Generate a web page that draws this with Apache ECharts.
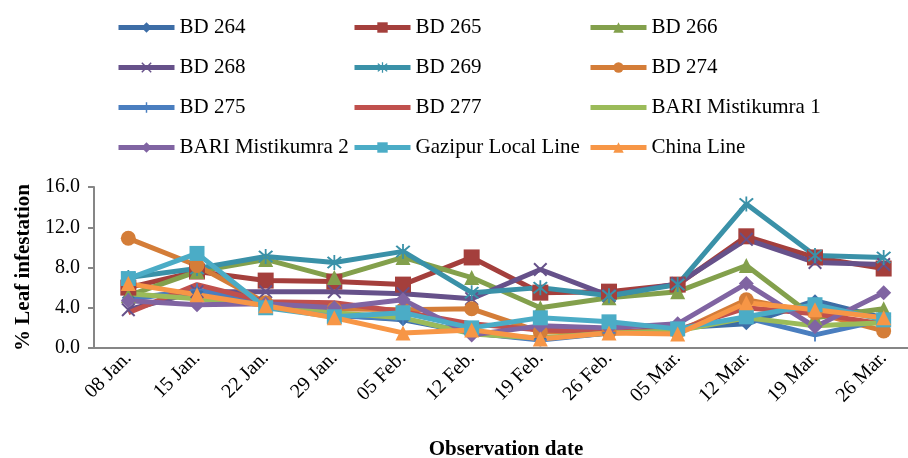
<!DOCTYPE html>
<html>
<head>
<meta charset="utf-8">
<script src="https://cdn.jsdelivr.net/npm/echarts@6/dist/echarts.min.js"></script>
<style>
  html, body { margin: 0; padding: 0; background: #fff; }
  #chart { width: 908px; height: 458px; }
</style>
</head>
<body>
<div id="chart"></div>
<script>
const categories = ['08 Jan.', '15 Jan.', '22 Jan.', '29 Jan.', '05 Feb.', '12 Feb.', '19 Feb.', '26 Feb.', '05 Mar.', '12 Mar.', '19 Mar.', '26 Mar.']
const yTicks = [0, 4, 8, 12, 16]

const bd264 = [5.0, 5.6, 4.5, 3.3, 2.8, 1.5, 0.9, 1.5, 2.0, 2.4, 4.7, 3.0]
const bd265 = [6.0, 7.6, 6.7, 6.6, 6.3, 9.0, 5.5, 5.6, 6.3, 11.1, 9.0, 7.9]
const bd266 = [5.2, 7.6, 8.8, 7.0, 9.0, 7.0, 4.0, 5.0, 5.6, 8.2, 3.0, 3.9]
const bd268 = [3.8, 5.6, 5.6, 5.6, 5.4, 4.9, 7.8, 5.2, 6.4, 10.8, 8.5, 8.3]
const bd269 = [7.0, 7.9, 9.1, 8.5, 9.6, 5.5, 6.0, 5.2, 6.3, 14.3, 9.2, 9.0]
const bd274 = [10.9, 8.2, 4.5, 3.9, 3.8, 3.9, 1.6, 1.6, 1.6, 4.8, 3.5, 1.7]
const bd275 = [4.8, 5.8, 4.4, 3.2, 2.9, 1.5, 0.8, 1.5, 1.8, 3.0, 1.3, 2.8]
const bd277 = [3.5, 6.3, 4.6, 4.5, 3.6, 2.4, 1.8, 1.6, 1.8, 4.0, 3.4, 2.4]
const bariMistikumra1 = [5.4, 4.9, 4.3, 3.5, 3.0, 1.4, 1.0, 1.5, 1.7, 3.0, 2.2, 2.5]
const bariMistikumra2 = [4.7, 4.3, 4.4, 4.0, 4.8, 1.3, 2.2, 2.0, 2.4, 6.4, 2.1, 5.5]
const gazipurLocal = [6.9, 9.4, 4.0, 3.1, 3.5, 2.0, 3.0, 2.6, 1.9, 3.1, 4.3, 2.8]
const chinaLine = [6.4, 5.3, 4.2, 3.0, 1.5, 1.8, 0.9, 1.5, 1.4, 4.5, 3.8, 3.0]

// marker shapes drawn as filled outlines
const xMark = 'path://M0,1L1,0L5,4L9,0L10,1L6,5L10,9L9,10L5,6L1,10L0,9L4,5Z'
const starMark = 'path://M0,1L1,0L5,4L9,0L10,1L6,5L10,9L9,10L5,6L1,10L0,9L4,5ZM4.4,-1L5.6,-1L5.6,11L4.4,11Z'
const plusMark = 'path://M4.3,0L5.7,0L5.7,4.3L10,4.3L10,5.7L5.7,5.7L5.7,10L4.3,10L4.3,5.7L0,5.7L0,4.3L4.3,4.3Z'

const seriesDefs = [
  { name: 'BD 264', data: bd264, color: '#3d6da6', symbol: 'diamond', size: 13 },
  { name: 'BD 265', data: bd265, color: '#a43f3c', symbol: 'rect', size: 16 },
  { name: 'BD 266', data: bd266, color: '#83a04c', symbol: 'triangle', size: 15 },
  { name: 'BD 268', data: bd268, color: '#66518a', symbol: xMark, size: 14 },
  { name: 'BD 269', data: bd269, color: '#3a91a8', symbol: starMark, size: 15 },
  { name: 'BD 274', data: bd274, color: '#d47d38', symbol: 'circle', size: 15 },
  { name: 'BD 275', data: bd275, color: '#4a7ebf', symbol: plusMark, size: 13 },
  { name: 'BD 277', data: bd277, color: '#c0504d', symbol: 'none', size: 0 },
  { name: 'BARI Mistikumra 1', data: bariMistikumra1, color: '#9bbb59', symbol: 'none', size: 0 },
  { name: 'BARI Mistikumra 2', data: bariMistikumra2, color: '#8064a2', symbol: 'diamond', size: 15 },
  { name: 'Gazipur Local Line', data: gazipurLocal, color: '#4bacc6', symbol: 'rect', size: 15 },
  { name: 'China Line', data: chinaLine, color: '#f79646', symbol: 'triangle', size: 15 }
]
const noMarker = seriesDefs.filter(s => s.symbol === 'none').map(s => s.name)

const font = 'Liberation Serif'

const legendCol = (left, names) => ({
  orient: 'vertical',
  left: left,
  top: 12,
  itemWidth: 56,
  itemHeight: 13,
  itemGap: 19,
  data: names.map(n => noMarker.includes(n) ? { name: n, itemStyle: { opacity: 0 } } : n),
  lineStyle: { width: 5 },
  textStyle: { fontFamily: font, fontSize: 21, color: '#000', lineHeight: 21 }
})

const chart = echarts.init(document.getElementById('chart'))

chart.setOption({
  animation: false,
  backgroundColor: '#fff',
  legend: [
    legendCol(111, ['BD 264', 'BD 268', 'BD 275', 'BARI Mistikumra 2']),
    legendCol(347, ['BD 265', 'BD 269', 'BD 277', 'Gazipur Local Line']),
    legendCol(583, ['BD 266', 'BD 274', 'BARI Mistikumra 1', 'China Line'])
  ],
  grid: { left: 94, right: -10, top: 187, bottom: 110, outerBoundsMode: 'none' },
  xAxis: {
    type: 'category',
    data: categories,
    boundaryGap: true,
    name: 'Observation date',
    nameLocation: 'middle',
    nameGap: 91,
    nameTextStyle: { fontFamily: font, fontSize: 21, fontWeight: 'bold', color: '#000' },
    axisLine: { lineStyle: { color: '#868686', width: 2 } },
    axisTick: { alignWithLabel: false, length: 6, lineStyle: { color: '#868686', width: 2 } },
    axisLabel: { rotate: 45, margin: 7, fontFamily: font, fontSize: 20, color: '#000' }
  },
  yAxis: {
    type: 'value',
    min: 0,
    max: yTicks[yTicks.length - 1],
    interval: 4,
    name: '% Leaf infestation',
    nameLocation: 'middle',
    nameGap: 60,
    nameTextStyle: { fontFamily: font, fontSize: 21, fontWeight: 'bold', color: '#000' },
    axisLine: { show: true, lineStyle: { color: '#868686', width: 2 } },
    axisTick: { show: true, length: 6, lineStyle: { color: '#868686', width: 2 } },
    splitLine: { show: false },
    axisLabel: { margin: 14, fontFamily: font, fontSize: 20, color: '#000', formatter: v => v.toFixed(1) }
  },
  series: seriesDefs.map(s => ({
    name: s.name,
    type: 'line',
    data: s.data,
    symbol: s.symbol,
    symbolSize: s.size,
    showSymbol: s.symbol !== 'none',
    lineStyle: { color: s.color, width: 5 },
    itemStyle: { color: s.color },
    emphasis: { disabled: true }
  }))
})
</script>
</body>
</html>
